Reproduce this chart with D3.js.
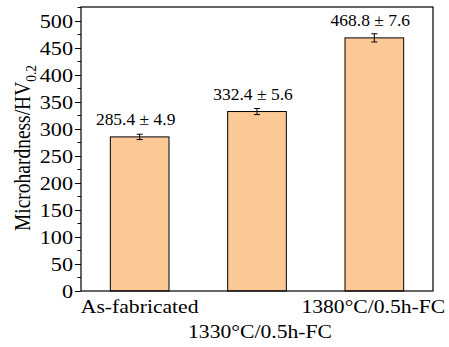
<!DOCTYPE html>
<html>
<head>
<meta charset="utf-8">
<script src="https://cdn.jsdelivr.net/npm/d3@7"></script>
<style>
  html, body { margin: 0; padding: 0; background: #fff; }
  svg text { font-family: "Liberation Serif", "Times New Roman", "DejaVu Serif", serif; fill: #000; }
</style>
</head>
<body>
<svg id="chart" width="449" height="347"></svg>
<script>
// Microhardness of the three material states
const categories = ["As-fabricated", "1330°C/0.5h-FC", "1380°C/0.5h-FC"];
const hardness = [285.4, 332.4, 468.8];
const hardnessErr = [4.9, 5.6, 7.6];
const yTicks = [0, 50, 100, 150, 200, 250, 300, 350, 400, 450, 500];

const svg = d3.select("#chart");
const margin = { left: 81, right: 16, top: 7, bottom: 56 };
const W = 449, H = 347;
const x0 = margin.left, x1 = W - margin.right;
const y0 = H - margin.bottom, y1 = margin.top;

const x = d3.scaleBand().domain(categories).range([x0, x1])
  .paddingInner(0.5).paddingOuter(0.25);
const y = d3.scaleLinear().domain([0, 526]).range([y0, y1]);

const data = categories.map((c, i) => ({ c, v: hardness[i], e: hardnessErr[i] }));

// place a text at (px, py), widened horizontally by sx
function placeText(sel, px, py, sx) {
  sel.attr("x", 0).attr("y", 0)
    .attr("transform", (d, i) => `translate(${px(d, i)},${py(d, i)}) scale(${sx},1)`);
}

// bars
svg.append("g").selectAll("rect").data(data).join("rect")
  .attr("x", d => x(d.c))
  .attr("y", d => y(d.v))
  .attr("width", x.bandwidth())
  .attr("height", d => y(0) - y(d.v))
  .attr("fill", "#fcc896")
  .attr("stroke", "#000")
  .attr("stroke-width", 1);

// error bars
const eb = svg.append("g").attr("stroke", "#000").attr("stroke-width", 1);
data.forEach(d => {
  const cx = x(d.c) + x.bandwidth() / 2;
  eb.append("line").attr("x1", cx).attr("x2", cx).attr("y1", y(d.v - d.e)).attr("y2", y(d.v + d.e));
  eb.append("line").attr("x1", cx - 3).attr("x2", cx + 3).attr("y1", y(d.v + d.e)).attr("y2", y(d.v + d.e));
  eb.append("line").attr("x1", cx - 3).attr("x2", cx + 3).attr("y1", y(d.v - d.e)).attr("y2", y(d.v - d.e));
});

// value labels
svg.append("g").selectAll("text").data(data).join("text")
  .attr("text-anchor", "middle")
  .attr("font-size", 16.5)
  .text(d => `${d.v.toFixed(1)} ± ${d.e.toFixed(1)}`)
  .call(placeText, d => x(d.c) + x.bandwidth() / 2 - 4, d => y(d.v) - 11.5, 1.06);

// frame
svg.append("rect")
  .attr("x", x0).attr("y", y1).attr("width", x1 - x0).attr("height", y0 - y1)
  .attr("fill", "none").attr("stroke", "#000").attr("stroke-width", 1.2);

// y axis with minor ticks
const minor = d3.range(25, 526, 50);
svg.append("g").selectAll("line").data(minor).join("line")
  .attr("x1", x0 - 3.5).attr("x2", x0)
  .attr("y1", d => y(d)).attr("y2", d => y(d))
  .attr("stroke", "#000").attr("stroke-width", 1);
const yAxis = d3.axisLeft(y).tickValues(yTicks).tickSize(6).tickPadding(2).tickFormat(d3.format("d"));
const ga = svg.append("g").attr("transform", `translate(${x0},0)`).call(yAxis);
ga.select(".domain").remove();
ga.selectAll(".tick line").attr("stroke-width", 1);
ga.selectAll(".tick text")
  .attr("font-size", 18.5)
  .attr("dy", null)
  .call(placeText, () => -8, () => 6.3, 1.2);

// category labels, the middle one dropped to a second row
const rowY = [312.5, 338];
svg.append("g").selectAll("text").data(categories).join("text")
  .attr("text-anchor", "middle")
  .attr("font-size", 18.5)
  .text(c => c)
  .call(placeText, (c, i) => x(c) + x.bandwidth() / 2 + (i === 1 ? 3 : i === 2 ? -1 : 0),
        (c, i) => rowY[i % 2], 1.17);

// y axis title
const title = svg.append("text")
  .attr("transform", `translate(30,148) rotate(-90) scale(1,1.15)`)
  .attr("text-anchor", "middle")
  .attr("font-size", 19.5);
title.append("tspan").text("Microhardness/HV");
title.append("tspan").attr("font-size", 13.5).attr("dy", 5).text("0.2");
</script>
</body>
</html>
